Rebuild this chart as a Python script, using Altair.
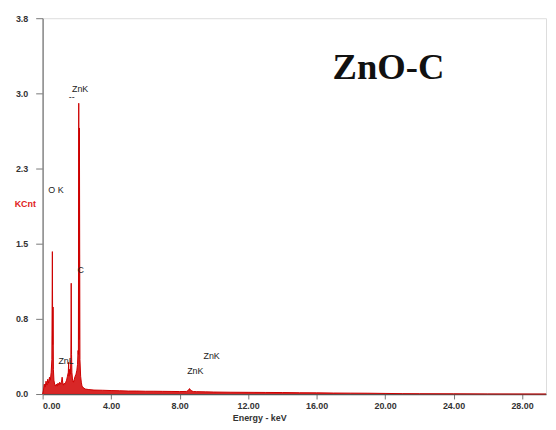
import altair as alt
import pandas as pd

# Spectrum (Energy in keV, counts in KCnt)
energy = [0.00, 0.05, 0.10, 0.15, 0.20, 0.25, 0.30, 0.35, 0.40, 0.45, 0.50,
          0.54, 0.57, 0.59, 0.61, 0.63, 0.66, 0.70, 0.75, 0.80, 0.85, 0.90,
          0.95, 1.00, 1.05, 1.10, 1.14, 1.18, 1.22, 1.26, 1.30, 1.35, 1.40,
          1.45, 1.50, 1.52, 1.54, 1.58, 1.62, 1.65, 1.67, 1.69, 1.71, 1.75,
          1.80, 1.85, 1.90, 1.95, 2.00, 2.04, 2.07, 2.09, 2.11, 2.13, 2.15,
          2.18, 2.22, 2.26, 2.30, 2.40, 2.50, 2.70, 3.00, 3.50, 4.00, 4.50,
          5.00, 5.50, 6.00, 6.50, 7.00, 7.50, 8.00, 8.40, 8.50, 8.58, 8.66,
          8.80, 9.00, 9.50, 10.0, 11.0, 12.0, 13.0, 14.0, 15.0, 16.0, 17.0,
          18.0, 19.0, 20.0, 21.0, 22.0, 24.0, 26.0, 29.4]
counts = [0.00, 0.04, 0.10, 0.07, 0.13, 0.09, 0.15, 0.11, 0.17, 0.14, 0.22,
          0.35, 1.44, 0.50, 0.88, 0.25, 0.14, 0.10, 0.08, 0.10, 0.08, 0.11,
          0.09, 0.12, 0.10, 0.12, 0.17, 0.11, 0.09, 0.11, 0.10, 0.12, 0.14,
          0.18, 0.22, 0.32, 0.18, 0.25, 0.20, 0.35, 1.12, 0.40, 0.22, 0.14,
          0.12, 0.15, 0.18, 0.20, 0.24, 0.30, 0.44, 0.40, 2.94, 0.55, 2.69,
          0.35, 0.18, 0.12, 0.08, 0.06, 0.05, 0.045, 0.04, 0.038, 0.035, 0.033,
          0.03, 0.03, 0.028, 0.028, 0.027, 0.026, 0.025, 0.026, 0.035, 0.055, 0.035,
          0.025, 0.024, 0.022, 0.02, 0.018, 0.017, 0.016, 0.015, 0.013, 0.012, 0.010,
          0.009, 0.008, 0.006, 0.004, 0.003, 0.002, 0.001, 0.0]

# Peak annotations
label_text = ["ZnK", "--", "O K", "C", "ZnL", "ZnK", "ZnK"]
label_energy = [2.19, 1.70, 0.78, 2.22, 1.37, 9.87, 8.92]
label_count = [3.08, 3.00, 2.06, 1.25, 0.33, 0.38, 0.23]

title_text = ["ZnO-C"]
title_energy = [20.2]
title_count = [3.30]

x_ticks = [0, 4, 8, 12, 16, 20, 24, 28]
y_ticks = [0.0, 0.76, 1.52, 2.28, 3.04, 3.8]

spec = pd.DataFrame({"energy": energy, "counts": counts})
labels = pd.DataFrame({"t": label_text, "e": label_energy, "c": label_count})
ttl = pd.DataFrame({"t": title_text, "e": title_energy, "c": title_count})

xscale = alt.Scale(domain=[0, 29.4], nice=False, zero=False)
yscale = alt.Scale(domain=[0, 3.8], nice=False)

xaxis = alt.Axis(values=x_ticks, format=".2f", title="Energy - keV",
                 grid=False, labelFont="Liberation Sans", labelFontWeight="bold",
                 labelFontSize=9, labelColor="#333", tickColor="#777", tickSize=5,
                 domainColor="#555", domainWidth=1.5, labelPadding=3,
                 titleFont="Liberation Sans", titleFontWeight="bold", titleFontSize=9,
                 titleColor="#333", titleX=219, titleY=24, titleBaseline="middle",
                 titleAnchor="start", titleAlign="center")
yaxis = alt.Axis(values=y_ticks, format=".1f", title="KCnt",
                 grid=False, labelFont="Liberation Sans", labelFontWeight="bold",
                 labelFontSize=9, labelColor="#333", tickColor="#777", tickSize=7,
                 domainColor="#888", domainWidth=1.5, labelPadding=8,
                 titleFont="Liberation Sans", titleFontWeight="bold", titleFontSize=9,
                 titleColor="#e02020", titleAngle=0, titleX=-18, titleY=187,
                 titleBaseline="middle", titleAlign="center", titleAnchor="start")

area = alt.Chart(spec).mark_area(color="#d41010", opacity=0.9, line={"color": "#cc0000", "strokeWidth": 1}).encode(
    x=alt.X("energy:Q", scale=xscale, axis=xaxis),
    y=alt.Y("counts:Q", scale=yscale, axis=yaxis),
)

text = alt.Chart(labels).mark_text(font="Liberation Sans", fontSize=9, color="#222",
                                   baseline="middle", align="center").encode(
    x=alt.X("e:Q", scale=xscale), y=alt.Y("c:Q", scale=yscale), text="t:N")

big = alt.Chart(ttl).mark_text(font="Liberation Serif", fontWeight="bold", fontSize=37,
                               color="#111", baseline="middle", align="center").encode(
    x=alt.X("e:Q", scale=xscale), y=alt.Y("c:Q", scale=yscale), text="t:N")

chart = alt.layer(area, text, big).properties(
    width=509, height=380,
    autosize=alt.AutoSizeParams(type="none"),
    padding={"left": 35, "top": 8, "right": 2, "bottom": 28},
).configure_view(stroke="#888", strokeWidth=1.5).configure(background="white")

chart.save("out.html", embed_options={"renderer": "svg", "actions": False})
